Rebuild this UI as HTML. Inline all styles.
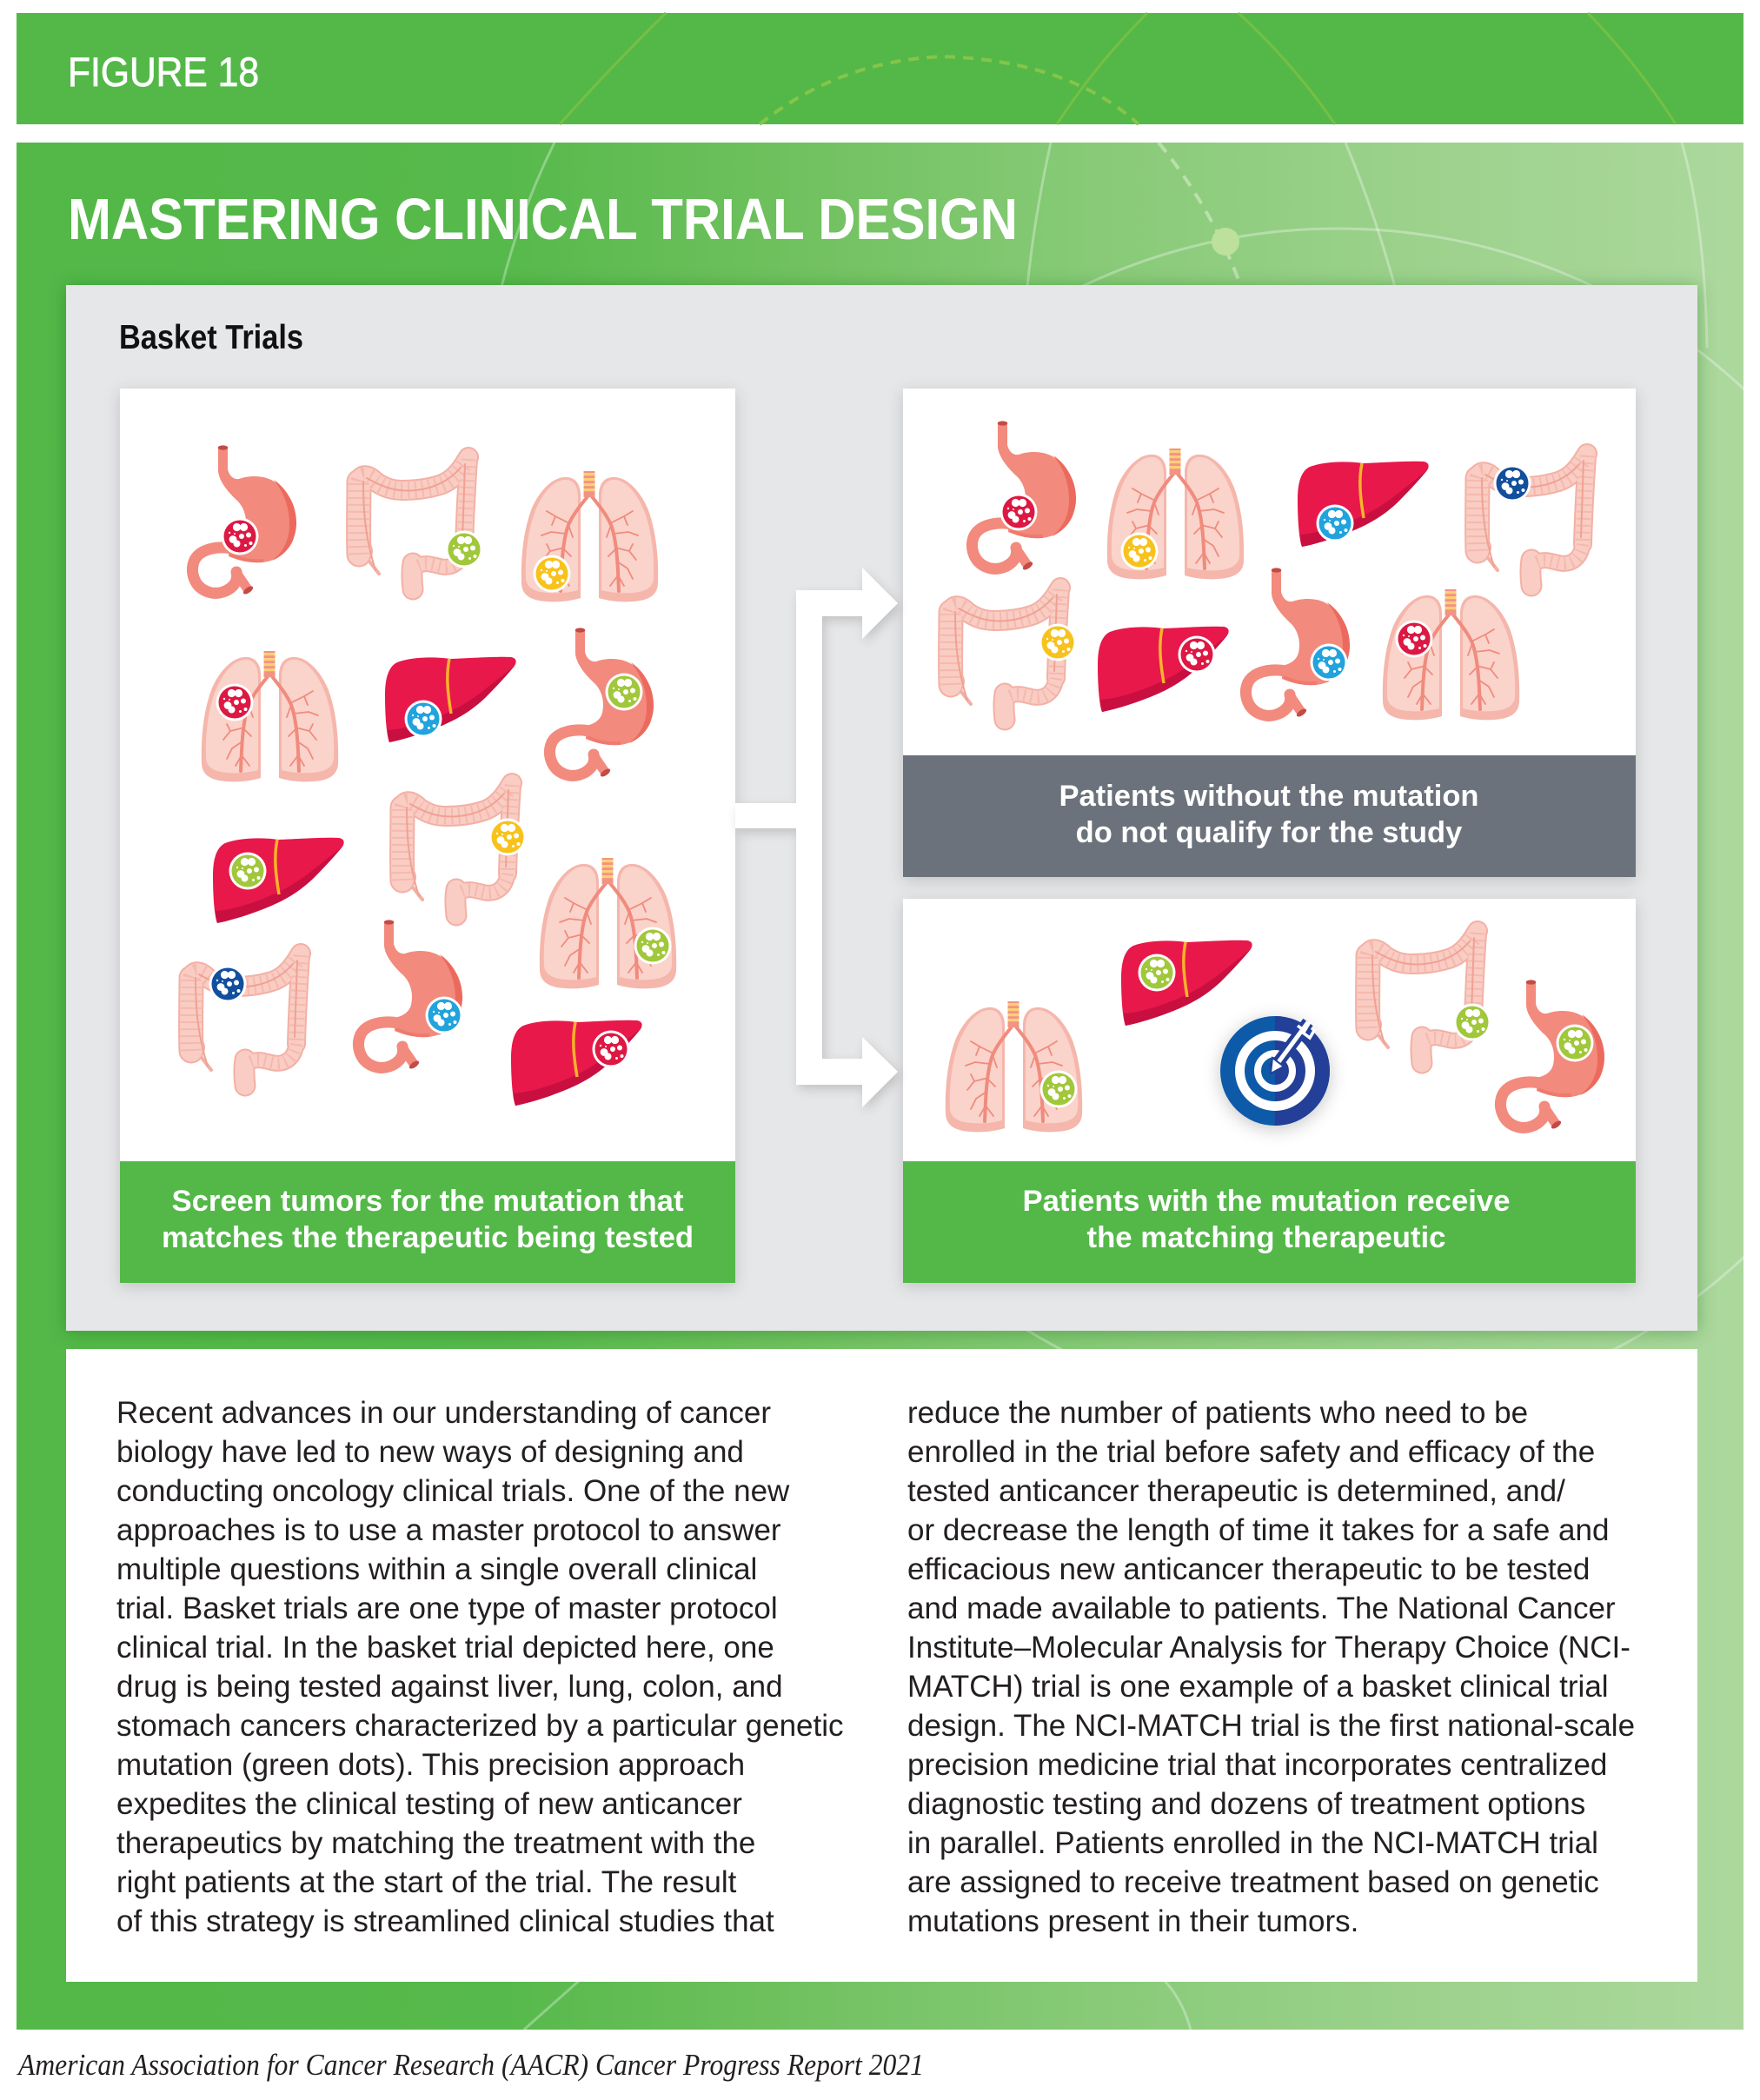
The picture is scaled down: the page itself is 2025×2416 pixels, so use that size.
<!DOCTYPE html>
<html><head><meta charset="utf-8">
<style>
html,body{margin:0;padding:0;background:#fff;width:2025px;height:2416px;overflow:hidden}
svg{display:block}
</style></head>
<body>
<svg width="2025" height="2416" viewBox="0 0 2025 2416" xmlns="http://www.w3.org/2000/svg" xmlns:xlink="http://www.w3.org/1999/xlink" font-family="'Liberation Sans', Arial, sans-serif">
<defs>
  <linearGradient id="pg" x1="0" y1="0" x2="1" y2="0">
    <stop offset="0" stop-color="#53b848"/>
    <stop offset="0.28" stop-color="#56b94b"/>
    <stop offset="0.45" stop-color="#70c15f"/>
    <stop offset="0.62" stop-color="#87ca77"/>
    <stop offset="0.8" stop-color="#9bd18b"/>
    <stop offset="1" stop-color="#acd89d"/>
  </linearGradient>
  <filter id="shP" x="-5%" y="-5%" width="110%" height="110%">
    <feDropShadow dx="0" dy="2" stdDeviation="10" flood-color="#1f5a18" flood-opacity="0.35"/>
  </filter>
  <filter id="shC" x="-10%" y="-10%" width="120%" height="120%">
    <feDropShadow dx="0" dy="4" stdDeviation="9" flood-color="#000" flood-opacity="0.16"/>
  </filter>
  <filter id="shA" x="-20%" y="-20%" width="140%" height="140%">
    <feDropShadow dx="3" dy="5" stdDeviation="6" flood-color="#000" flood-opacity="0.16"/>
  </filter>
  <filter id="shT" x="-50%" y="-50%" width="200%" height="200%">
    <feDropShadow dx="0" dy="4" stdDeviation="10" flood-color="#000" flood-opacity="0.22"/>
  </filter>

  <!-- tumor -->
  <g id="tm">
    <circle r="21.5" fill="#fff"/>
    <circle r="18.5" fill="currentColor"/>
    <g fill="#fff">
      <circle cx="-3.5" cy="-10.5" r="4.6"/>
      <circle cx="4.5" cy="-10.5" r="4.6"/>
      <circle cx="-8" cy="3.5" r="4.4"/>
      <circle cx="-3.5" cy="8.5" r="4"/>
      <circle cx="2" cy="0" r="3"/>
      <circle cx="10" cy="-1.5" r="3"/>
      <circle cx="12.5" cy="8" r="2"/>
      <circle cx="6.5" cy="10.5" r="1.5"/>
      <circle cx="-12" cy="-4" r="1.2"/>
      <circle cx="-6" cy="-3" r="1"/>
    </g>
  </g>

  <!-- stomach 127x177 -->
  <g id="stomach">
    <path d="M52,119 C36,116 16,119 9,132 C3,145 8,162 22,168 C35,174 50,168 56,158 C58,153 58,150 57,146" fill="none" stroke="#f28a7d" stroke-width="13" stroke-linecap="round"/>
    <path d="M57,147 L70,166" stroke="#f28a7d" stroke-width="11" fill="none"/>
    <ellipse cx="70.5" cy="167" rx="6.5" ry="3" transform="rotate(-35 70.5 167)" fill="#c34a45"/>
    <path d="M36,3 L36,30 C37,42 48,55 58,64 C66,72 70,84 67,98 C65,106 58,111 48,113 L48,128 C58,132 70,136 86,135 C102,134 116,124 122,110 C127,96 127,76 120,64 C113,50 102,40 88,37 C78,35 68,36 60,39 C54,40 49,36 47,28 L47,3 Z" fill="#f28a7d"/>
    <path d="M100,40 C115,50 127,70 126,92 C125,110 115,126 98,133 C112,122 118,108 118,92 C118,72 112,55 100,40 Z" fill="#ec6a5d"/>
    <path d="M50,126 C62,132 74,134 88,133" fill="none" stroke="#ee7a6d" stroke-width="4"/>
    <ellipse cx="41.5" cy="3" rx="5.8" ry="2.6" fill="#c34a45"/>
  </g>

  <!-- colon 155x172 -->
  <g id="colon" fill="none" stroke-linecap="round" stroke-linejoin="round">
    <g stroke="#f3b0a4">
      <path d="M15,120 C14,95 15,60 15,36" stroke-width="29"/>
      <path d="M15,36 C17,26 26,28 34,36 C45,44 55,46 66,46 C82,46 95,44 108,40 C120,36 128,28 136,16 C139,11 141,8 141,8" stroke-width="24"/>
      <path d="M141,10 C139,40 137,75 136,112" stroke-width="22"/>
      <path d="M136,112 C134,128 124,136 110,134 C100,132 92,128 82,133" stroke-width="19"/>
      <path d="M77,130 C75,142 76,152 77,160" stroke-width="25"/>
      <path d="M24,124 L38,142" stroke-width="4"/>
    </g>
    <circle cx="17" cy="116" r="14" fill="#f3b0a4" stroke="none"/>
    <g stroke="#f9cdc4">
      <path d="M15,120 C14,95 15,60 15,36" stroke-width="25"/>
      <path d="M15,36 C17,26 26,28 34,36 C45,44 55,46 66,46 C82,46 95,44 108,40 C120,36 128,28 136,16 C139,11 141,8 141,8" stroke-width="20"/>
      <path d="M141,10 C139,40 137,75 136,112" stroke-width="18"/>
      <path d="M136,112 C134,128 124,136 110,134 C100,132 92,128 82,133" stroke-width="15"/>
      <path d="M77,130 C75,142 76,152 77,160" stroke-width="21"/>
    </g>
    <circle cx="17" cy="116" r="12" fill="#f9cdc4" stroke="none"/>
    <g stroke="#f5b9ae" stroke-dasharray="2 6" stroke-linecap="butt">
      <path d="M15,120 C14,95 15,60 15,36" stroke-width="24"/>
      <path d="M15,36 C17,26 26,28 34,36 C45,44 55,46 66,46 C82,46 95,44 108,40 C120,36 128,28 136,16" stroke-width="19"/>
      <path d="M141,10 C139,40 137,75 136,112" stroke-width="17"/>
      <path d="M136,112 C134,128 124,136 110,134 C100,132 92,128 82,133" stroke-width="14"/>
    </g>
    <g stroke="#f0a194" stroke-width="2">
      <path d="M20,36 C20,70 22,100 34,138"/>
      <path d="M24,32 C45,44 60,48 80,46 C100,44 118,36 132,20"/>
      <path d="M137,16 C136,40 135,70 134,104"/>
    </g>
  </g>

  <!-- lungs 159x150 -->
  <g id="lh">
    <path d="M50,7 C62,6 69,14 69,28 L69,146 C55,150 42,151 30,150 C12,149 2,143 1,130 C0,100 3,70 12,45 C20,25 35,8 50,7 Z" fill="#f5b6ab"/>
    <path d="M50,10 C60,9 66,16 66,30 L66,137 C55,140 42,141 30,140 C16,139 7,134 6,124 C5,98 8,70 16,48 C23,29 36,11 50,10 Z" fill="#fad3cb"/>
    <g fill="none" stroke="#f08b7d" stroke-linecap="round">
      <path d="M78,28 C70,38 60,50 55,62 C50,75 48,95 47,115 L46,138" stroke-width="4"/>
      <g stroke-width="1.8">
        <path d="M56,60 L40,52 L30,46 M40,52 L36,62"/>
        <path d="M52,72 L35,70 L24,74"/>
        <path d="M50,88 L34,92 L26,102 M34,92 L30,84"/>
        <path d="M48,104 L36,112 L30,124"/>
        <path d="M47,120 L40,132 M47,120 L56,132"/>
        <path d="M55,62 L60,76 M50,90 L58,98"/>
      </g>
    </g>
  </g>
  <g id="lungs">
    <use xlink:href="#lh"/>
    <use xlink:href="#lh" transform="translate(159,0) scale(-1,1)"/>
    <rect x="72.5" y="0" width="13" height="30" fill="#f39383"/>
    <g fill="#fccf78">
      <rect x="72.5" y="2" width="13" height="3.2"/>
      <rect x="72.5" y="8" width="13" height="3.2"/>
      <rect x="72.5" y="14" width="13" height="3.2"/>
      <rect x="72.5" y="20" width="13" height="3.2"/>
    </g>
  </g>

  <!-- liver 150x99 -->
  <g id="liver">
    <path d="M14,7 C30,1 55,0 75,3 C100,2 130,0 145,1 C151,2 152,6 149,11 C140,22 128,35 115,48 C100,62 85,72 60,82 C40,90 20,96 5,99 C2,92 0,70 0,45 C0,25 4,12 14,7 Z" fill="#e8184a"/>
    <path d="M3,85 C20,84 40,78 60,70 C85,60 100,50 115,38 C128,28 140,18 149,11 C140,22 128,35 115,48 C100,62 85,72 60,82 C40,90 20,96 5,99 C4,95 3,90 3,85 Z" fill="#c80f40"/>
    <path d="M74,3 C70,22 72,42 76,66" fill="none" stroke="#f8b22b" stroke-width="3.5"/>
  </g>
</defs>

<!-- top band -->
<rect x="19" y="15" width="1987" height="128" fill="#53b848"/>
<g fill="none" stroke="#76bf44" stroke-width="3">
  <path d="M766,15 Q700,80 644,143"/>
  <path d="M1320,15 Q1260,75 1216,143"/>
  <path d="M1425,15 Q1490,75 1536,143"/>
  <path d="M1827,15 Q1885,75 1928,143"/>
</g>
<path d="M874,143 Q965,70 1085,65 Q1230,70 1310,143" fill="none" stroke="#84c54a" stroke-width="4" stroke-dasharray="12 9"/>
<text x="78" y="99" font-size="47.5" fill="#fff" stroke="#fff" stroke-width="0.8" textLength="220" lengthAdjust="spacingAndGlyphs">FIGURE 18</text>

<!-- main panel -->
<rect x="19" y="164" width="1987" height="2171" fill="url(#pg)"/>
<g fill="none" stroke="#ffffff" stroke-opacity="0.32" stroke-width="3">
  <path d="M638,164 Q600,240 577,330"/>
  <path d="M1209,164 Q1190,250 1182,330"/>
  <path d="M1548,164 Q1580,240 1605,330"/>
  <path d="M1935,164 Q1962,260 1964,400"/>
  <circle cx="1539" cy="947" r="684"/>
  <path d="M666,2279 L603,2335"/>
  <path d="M1340,2279 Q1360,2300 1370,2335"/>
</g>
<path d="M1333,164 Q1395,240 1428,330" fill="none" stroke="#dff0cf" stroke-opacity="0.55" stroke-width="4" stroke-dasharray="14 10"/>
<circle cx="1410" cy="278" r="16" fill="#bde09c"/>

<text x="78" y="275" font-size="67" font-weight="bold" fill="#fff" textLength="1093" lengthAdjust="spacingAndGlyphs">MASTERING CLINICAL TRIAL DESIGN</text>

<!-- gray panel -->
<rect x="76" y="328" width="1877" height="1203" fill="#e6e7e9" filter="url(#shP)"/>
<text x="137" y="401" font-size="39" font-weight="bold" fill="#111" textLength="212" lengthAdjust="spacingAndGlyphs">Basket Trials</text>

<!-- cards -->
<g filter="url(#shC)">
  <rect x="138" y="447" width="708" height="1029" fill="#fff"/>
  <rect x="1039" y="447" width="843" height="562" fill="#fff"/>
  <rect x="1039" y="1034" width="843" height="442" fill="#fff"/>
</g>
<rect x="138" y="1336" width="708" height="140" fill="#53b848"/>
<rect x="1039" y="869" width="843" height="140" fill="#6b727b"/>
<rect x="1039" y="1336" width="843" height="140" fill="#53b848"/>

<!-- arrows -->
<path d="M846,924 L916,924 L916,679 L992,679 L992,653 L1033,694 L992,735 L992,709 L946,709 L946,1218 L992,1218 L992,1193 L1033,1233 L992,1274 L992,1248 L916,1248 L916,953 L846,953 Z" fill="#fff" filter="url(#shA)"/>

<!-- left card organs -->
<use xlink:href="#stomach" x="215" y="512"/>
<use xlink:href="#colon" x="398" y="518"/>
<use xlink:href="#lungs" x="599" y="542"/>
<use xlink:href="#lungs" x="231" y="749"/>
<use xlink:href="#liver" x="443" y="755"/>
<use xlink:href="#stomach" x="626" y="722"/>
<use xlink:href="#liver" x="245" y="963"/>
<use xlink:href="#colon" x="448" y="893"/>
<use xlink:href="#lungs" x="620" y="987"/>
<use xlink:href="#colon" x="205" y="1089"/>
<use xlink:href="#stomach" x="406" y="1058"/>
<use xlink:href="#liver" x="588" y="1173"/>

<use xlink:href="#tm" x="276" y="617" color="#dd1843"/>
<use xlink:href="#tm" x="534" y="632" color="#a1c73b"/>
<use xlink:href="#tm" x="635" y="660" color="#f8c21d"/>
<use xlink:href="#tm" x="270" y="808" color="#dd1843"/>
<use xlink:href="#tm" x="487" y="827" color="#21a3dd"/>
<use xlink:href="#tm" x="718" y="796" color="#a1c73b"/>
<use xlink:href="#tm" x="285" y="1002" color="#a1c73b"/>
<use xlink:href="#tm" x="584" y="963" color="#f8c21d"/>
<use xlink:href="#tm" x="751" y="1088" color="#a1c73b"/>
<use xlink:href="#tm" x="262" y="1132" color="#124f9d"/>
<use xlink:href="#tm" x="511" y="1168" color="#21a3dd"/>
<use xlink:href="#tm" x="703" y="1207" color="#dd1843"/>

<!-- right top card organs -->
<use xlink:href="#stomach" x="1112" y="484"/>
<use xlink:href="#lungs" x="1273" y="516"/>
<use xlink:href="#liver" x="1493" y="530"/>
<use xlink:href="#colon" x="1685" y="514"/>
<use xlink:href="#colon" x="1079" y="668"/>
<use xlink:href="#liver" x="1263" y="720"/>
<use xlink:href="#stomach" x="1427" y="653"/>
<use xlink:href="#lungs" x="1590" y="678"/>

<use xlink:href="#tm" x="1172" y="589" color="#dd1843"/>
<use xlink:href="#tm" x="1311" y="634" color="#f8c21d"/>
<use xlink:href="#tm" x="1536" y="602" color="#21a3dd"/>
<use xlink:href="#tm" x="1740" y="556" color="#124f9d"/>
<use xlink:href="#tm" x="1217" y="739" color="#f8c21d"/>
<use xlink:href="#tm" x="1377" y="753" color="#dd1843"/>
<use xlink:href="#tm" x="1529" y="762" color="#21a3dd"/>
<use xlink:href="#tm" x="1627" y="735" color="#dd1843"/>

<!-- right bottom card organs -->
<use xlink:href="#lungs" x="1087" y="1152"/>
<use xlink:href="#liver" x="1290" y="1081"/>
<use xlink:href="#colon" x="1559" y="1063"/>
<use xlink:href="#stomach" x="1720" y="1127"/>
<use xlink:href="#tm" x="1218" y="1253" color="#a1c73b"/>
<use xlink:href="#tm" x="1331" y="1119" color="#a1c73b"/>
<use xlink:href="#tm" x="1694" y="1176" color="#a1c73b"/>
<use xlink:href="#tm" x="1812" y="1200" color="#a1c73b"/>

<!-- target -->
<g transform="translate(1467,1232)">
  <circle r="63" fill="#0b5aa8" filter="url(#shT)"/>
  <path d="M0,-63 A63,63 0 0 1 0,63 Z" fill="#233f98"/>
  <circle r="40.5" fill="none" stroke="#fff" stroke-width="11"/>
  <circle r="20" fill="none" stroke="#fff" stroke-width="8"/>
  <path d="M38,-56 L-2,-2" stroke="#233f98" stroke-width="14" fill="none"/>
  <path d="M38,-56 L1,-6" stroke="#fff" stroke-width="5" fill="none"/>
  <polygon points="-5,3 10,-5 -3,-15" fill="#fff" stroke="#233f98" stroke-width="2"/>
  <path d="M26,-52 L34,-46 L40,-56 M32,-44 L40,-38 L46,-48" fill="none" stroke="#fff" stroke-width="3.5"/>
</g>

<!-- captions -->
<g fill="#fff" font-size="34.5" font-weight="bold" text-anchor="middle">
  <text x="492" y="1393" textLength="589" lengthAdjust="spacingAndGlyphs">Screen tumors for the mutation that</text>
  <text x="492" y="1435" textLength="612" lengthAdjust="spacingAndGlyphs">matches the therapeutic being tested</text>
  <text x="1460" y="927">Patients without the mutation</text>
  <text x="1460" y="969">do not qualify for the study</text>
  <text x="1457" y="1393" textLength="561" lengthAdjust="spacingAndGlyphs">Patients with the mutation receive</text>
  <text x="1457" y="1435" textLength="413" lengthAdjust="spacingAndGlyphs">the matching therapeutic</text>
</g>

<!-- white text box -->
<rect x="76" y="1552" width="1877" height="728" fill="#fff"/>
<g fill="#231f20" font-size="35">
  <text x="134" y="1637">Recent advances in our understanding of cancer</text>
  <text x="134" y="1682">biology have led to new ways of designing and</text>
  <text x="134" y="1727">conducting oncology clinical trials. One of the new</text>
  <text x="134" y="1772">approaches is to use a master protocol to answer</text>
  <text x="134" y="1817">multiple questions within a single overall clinical</text>
  <text x="134" y="1862">trial. Basket trials are one type of master protocol</text>
  <text x="134" y="1907">clinical trial. In the basket trial depicted here, one</text>
  <text x="134" y="1952">drug is being tested against liver, lung, colon, and</text>
  <text x="134" y="1997">stomach cancers characterized by a particular genetic</text>
  <text x="134" y="2042">mutation (green dots). This precision approach</text>
  <text x="134" y="2087">expedites the clinical testing of new anticancer</text>
  <text x="134" y="2132">therapeutics by matching the treatment with the</text>
  <text x="134" y="2177">right patients at the start of the trial. The result</text>
  <text x="134" y="2222">of this strategy is streamlined clinical studies that</text>

  <text x="1044" y="1637">reduce the number of patients who need to be</text>
  <text x="1044" y="1682">enrolled in the trial before safety and efficacy of the</text>
  <text x="1044" y="1727">tested anticancer therapeutic is determined, and/</text>
  <text x="1044" y="1772">or decrease the length of time it takes for a safe and</text>
  <text x="1044" y="1817">efficacious new anticancer therapeutic to be tested</text>
  <text x="1044" y="1862">and made available to patients. The National Cancer</text>
  <text x="1044" y="1907">Institute–Molecular Analysis for Therapy Choice (NCI-</text>
  <text x="1044" y="1952">MATCH) trial is one example of a basket clinical trial</text>
  <text x="1044" y="1997">design. The NCI-MATCH trial is the first national-scale</text>
  <text x="1044" y="2042">precision medicine trial that incorporates centralized</text>
  <text x="1044" y="2087">diagnostic testing and dozens of treatment options</text>
  <text x="1044" y="2132">in parallel. Patients enrolled in the NCI-MATCH trial</text>
  <text x="1044" y="2177">are assigned to receive treatment based on genetic</text>
  <text x="1044" y="2222">mutations present in their tumors.</text>
</g>

<!-- footer -->
<text x="21" y="2387" font-family="'Liberation Serif', 'Times New Roman', serif" font-style="italic" font-size="35" fill="#231f20" textLength="1042" lengthAdjust="spacingAndGlyphs">American Association for Cancer Research (AACR) Cancer Progress Report 2021</text>
</svg>
</body></html>
